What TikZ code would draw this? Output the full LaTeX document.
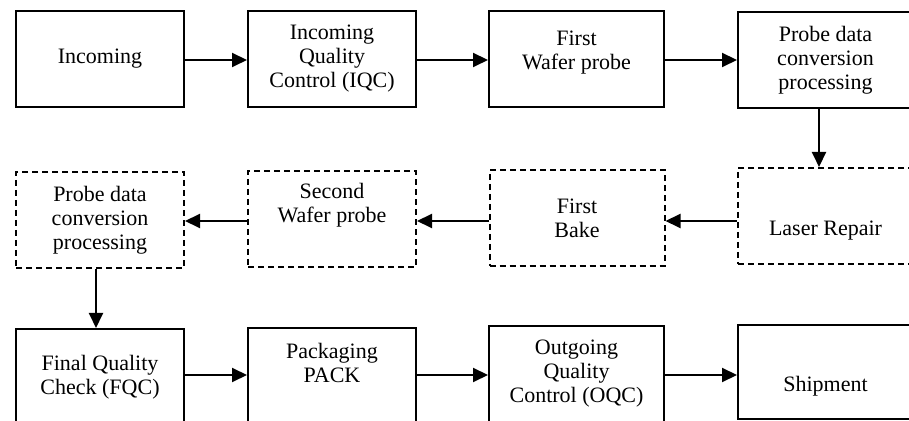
\documentclass[tikz,border=0pt]{standalone}
\usepackage{fontspec}
\setmainfont{Liberation Serif}
\usetikzlibrary{arrows.meta, positioning}

\tikzset{
	box/.style={draw, line width=1pt, minimum width=84pt, minimum height=48pt, inner sep=0pt, align=center, font=\rmfamily\fontsize{11}{12}\selectfont},
	dbox/.style={box, dash pattern=on 3pt off 2pt},
	wbox/.style={minimum width=87.5pt},
	txt/.style={align=center, inner sep=0pt, font=\rmfamily\fontsize{11}{12}\selectfont},
	flow/.style={line width=1pt, -{Triangle[length=7.5pt,width=7pt]}}
}

\begin{document}
\begin{tikzpicture}[x=0.5pt, y=-0.5pt]
		\useasboundingbox (0,0) rectangle (909,421);
		\node[box](inc) at (100,59) {Incoming};
		\node[box](iqc) at (332,59) {Incoming\\Quality\\Control (IQC)};
		\node[box, wbox, label={[txt,yshift=3pt]center:First\\Wafer probe}](fwp) at (576.5,59) {};
		\node[box, wbox](pdc) at (825.5,60) {Probe data\\conversion\\processing};
		\node[dbox, wbox, label={[txt,yshift=-7.5pt]center:Laser Repair}](lsr) at (825.5,216) {};
		\node[dbox, wbox](bake) at (577,218) {First\\Bake};
		\node[dbox, label={[txt,yshift=7pt]center:Second\\Wafer probe}](swp) at (332,219) {};
		\node[dbox](pdcb) at (100,220) {Probe data\\conversion\\processing};
		\node[box](fqc) at (100,377) {Final Quality\\Check (FQC)};
		\node[box, label={[txt,yshift=6.5pt]center:Packaging\\PACK}](pack) at (332,376) {};
		\node[box, wbox](oqc) at (576.5,374) {Outgoing\\Quality\\Control (OQC)};
		\node[box, wbox, minimum height=47pt, label={[txt,yshift=-7pt]center:Shipment}](shp) at (825.5,372) {};
		\draw [flow] (inc.east |- 0,60) -- (iqc.west |- 0,60);
		\draw [flow] (iqc.east |- 0,60) -- (fwp.west |- 0,60);
		\draw [flow] (fwp.east |- 0,60) -- (pdc.west |- 0,60);
		\draw [flow] ([xshift=-3.25pt]pdc.south) -- ([xshift=-3.25pt]lsr.north);
		\draw [flow] (lsr.west |- 0,221) -- (bake.east |- 0,221);
		\draw [flow] (bake.west |- 0,221) -- (swp.east |- 0,221);
		\draw [flow] (swp.west |- 0,221) -- (pdcb.east |- 0,221);
		\draw [flow] ([xshift=-2pt]pdcb.south) -- ([xshift=-2pt]fqc.north);
		\draw [flow] (fqc.east |- 0,375) -- (pack.west |- 0,375);
		\draw [flow] (pack.east |- 0,375) -- (oqc.west |- 0,375);
		\draw [flow] (oqc.east |- 0,375) -- (shp.west |- 0,375);
	\end{tikzpicture}
\end{document}
